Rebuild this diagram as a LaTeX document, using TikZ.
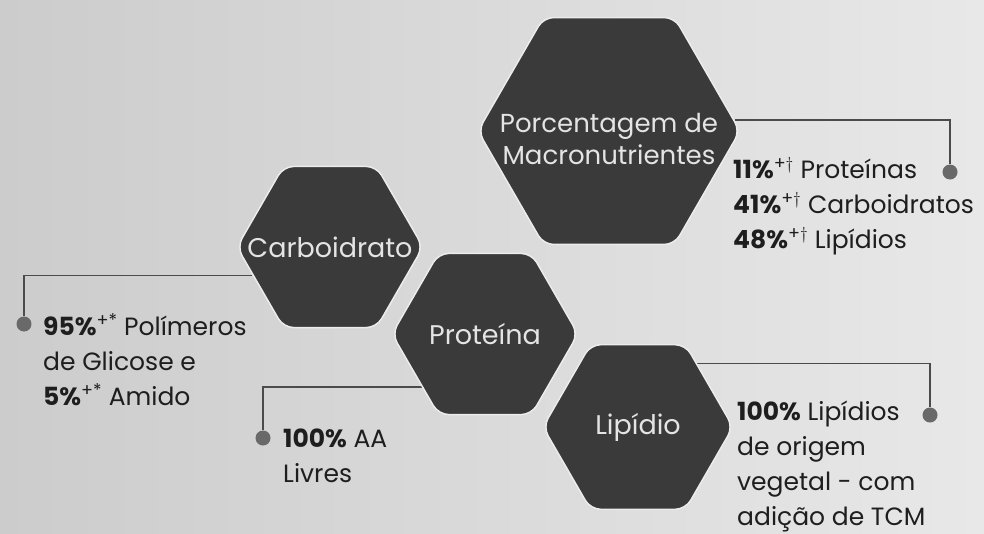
\documentclass[tikz,border=0pt]{standalone}
\usepackage{fontspec}
\setmainfont{Poppins}
\usetikzlibrary{shapes.geometric,backgrounds}
\definecolor{hexfill}{RGB}{58,58,58}
\definecolor{hexedge}{RGB}{236,236,236}
\definecolor{hextext}{RGB}{228,228,228}
\definecolor{infotext}{RGB}{30,30,30}
\definecolor{dotfill}{RGB}{105,105,105}
\definecolor{linkgray}{RGB}{75,75,75}
\definecolor{bgleft}{RGB}{204,204,204}
\definecolor{bgright}{RGB}{232,232,232}
\tikzstyle{hexa} = [regular polygon, regular polygon sides=6, fill=hexfill, draw=hexedge, line width=1.5pt, rounded corners=10pt, inner sep=0pt]
\tikzstyle{hexlabel} = [text=hextext, align=center, inner sep=0pt, font=\fontsize{27}{32}\selectfont]
\tikzstyle{info} = [anchor=west, align=left, inner sep=0pt, text=infotext, font=\fontsize{25}{35}\selectfont]
\tikzstyle{enddot} = [circle, fill=dotfill, minimum size=15pt, inner sep=0pt]
\tikzstyle{link} = [draw=linkgray, line width=1.2pt]
\newcommand{\supmac}{\textsuperscript{+$\dagger$}}
\newcommand{\supcarb}{\textsuperscript{+*}}

\begin{document}
\begin{tikzpicture}[x=1pt, y=-1pt]
    \useasboundingbox (0,0) rectangle (984,533);
    % the four hexagons, text put in as centre labels so it does not grow them
    \node [hexa, minimum size=262pt, label={[hexlabel, font=\fontsize{26}{32}\selectfont, yshift=-8pt]center:Porcentagem de\\Macronutrientes}] (macro) at (609,131) {};
    \node [hexa, minimum size=186pt, label={[hexlabel]center:Carboidrato}] (carb) at (330,247) {};
    \node [hexa, minimum size=186pt, label={[hexlabel]center:Proteína}] (prot) at (485,334) {};
    \node [hexa, minimum size=190pt, label={[hexlabel]center:Lipídio}] (lip) at (638,427) {};

    % texts and end dots
    \node [info] (macrotxt) at (733,206) {\textbf{11\%}\supmac{} Proteínas\\\textbf{41\%}\supmac{} Carboidratos\\\textbf{48\%}\supmac{} Lipídios};
    \node [info] (carbtxt) at (43,360) {\textbf{95\%}\supcarb{} Polímeros\\de Glicose e\\\textbf{5\%}\supcarb{} Amido};
    \node [info] (prottxt) at (283,456) {\textbf{100\%} AA\\Livres};
    \node [info] (liptxt) at (737,466) {\textbf{100\%} Lipídios\\de origem\\vegetal - com\\adição de TCM};
    \node [enddot] (mdot) at (950,172) {};
    \node [enddot] (cdot) at (24,324) {};
    \node [enddot] (pdot) at (263,438) {};
    \node [enddot] (ldot) at (930,415) {};

    \begin{scope}[on background layer]
    \shade [left color=bgleft, right color=bgright] (0,0) rectangle (984,533);
    % connectors from the hexagons to the dots
    \draw [link] (macro.5) -| (mdot.north);
    \draw [link] (carb.200) -| (cdot.north);
    \draw [link] (prot.220) -| (pdot.north);
    \draw [link] (lip.47) -| (ldot.north);
    \end{scope}
\end{tikzpicture}
\end{document}
